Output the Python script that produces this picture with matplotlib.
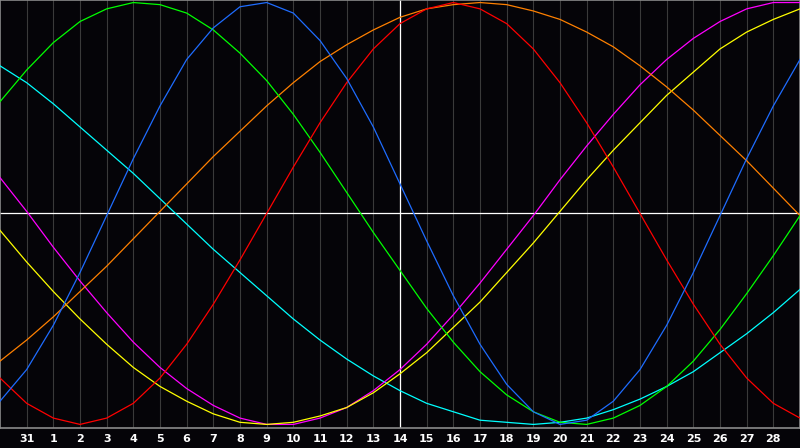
import numpy as np
import matplotlib
matplotlib.use("Agg")
import matplotlib.pyplot as plt

# day labels under the grid lines (index 1..29), index 15 is "today"
DAY_LABELS = ["31"] + [str(d) for d in range(1, 29)]
TODAY = 15

# curve values in percent, one value per grid line (index 0..30)
red = [-78, -90, -97, -100, -97, -90, -78, -62, -43, -22, 0, 22, 43, 62, 78, 90,
       97, 100, 97, 90, 78, 62, 43, 22, 0, -22, -43, -62, -78, -90, -97]
green = [53, 68, 81, 91, 97, 100, 99, 95, 87, 76, 63, 47, 29, 10, -9, -27,
         -45, -61, -75, -86, -94, -99, -100, -97, -91, -82, -70, -55, -38, -20, -1]
blue = [-89, -74, -53, -28, -1, 26, 51, 73, 88, 98, 100, 95, 82, 64, 41, 14,
        -13, -39, -62, -81, -94, -100, -98, -89, -74, -53, -28, -1, 26, 51, 73]
yellow = [-8, -23, -37, -50, -62, -73, -82, -89, -95, -99, -100, -99, -96, -92, -85, -76,
          -66, -54, -42, -28, -14, 1, 16, 30, 43, 56, 67, 78, 86, 92, 97]
magenta = [17, 1, -16, -32, -47, -61, -73, -83, -91, -97, -100, -100, -97, -92, -84, -74,
           -62, -48, -33, -17, -1, 16, 32, 47, 61, 73, 83, 91, 97, 100, 100]
cyan = [70, 62, 52, 41, 30, 19, 7, -5, -17, -28, -39, -50, -60, -69, -77, -84,
        -90, -94, -98, -99, -100, -99, -97, -93, -88, -82, -75, -66, -57, -47, -36]
orange = [-70, -60, -49, -37, -25, -12, 1, 14, 27, 39, 51, 62, 72, 80, 87, 93,
          97, 99, 100, 99, 96, 92, 86, 79, 70, 60, 49, 37, 25, 12, -1]

SERIES = [
    (cyan, "#00ffff"),
    (magenta, "#ff00ff"),
    (yellow, "#ffff00"),
    (orange, "#ff8000"),
    (green, "#00ff00"),
    (red, "#ff0000"),
    (blue, "#1e6cff"),
]

BG = "#050408"

fig = plt.figure(figsize=(8, 4.48), dpi=100, facecolor=BG)
ax = fig.add_axes([0, 20 / 448, 1, 428 / 448], facecolor=BG)

x = np.arange(len(red))
ax.set_xlim(0, len(red) - 1)
ax.set_ylim(-101.7, 101.2)

# vertical day grid
for i in range(1, len(red) - 1):
    ax.axvline(i, color="#3a3a3a", lw=0.8, zorder=1)

ax.axhline(0, color="white", lw=0.9, zorder=2)
ax.axvline(TODAY, color="white", lw=0.9, zorder=2)

for vals, col in SERIES:
    ax.plot(x, vals, color=col, lw=0.9, zorder=3)

for s in ax.spines.values():
    s.set_color("#8a8a8a")
    s.set_linewidth(1.2)

ax.set_yticks([])
ax.set_xticks(np.arange(1, len(DAY_LABELS) + 1), DAY_LABELS)
ax.tick_params(axis="x", length=0, pad=4, colors="white", labelsize=8)
for t in ax.get_xticklabels():
    t.set_fontweight("bold")

fig.savefig("out.png", dpi=100, facecolor=BG)
